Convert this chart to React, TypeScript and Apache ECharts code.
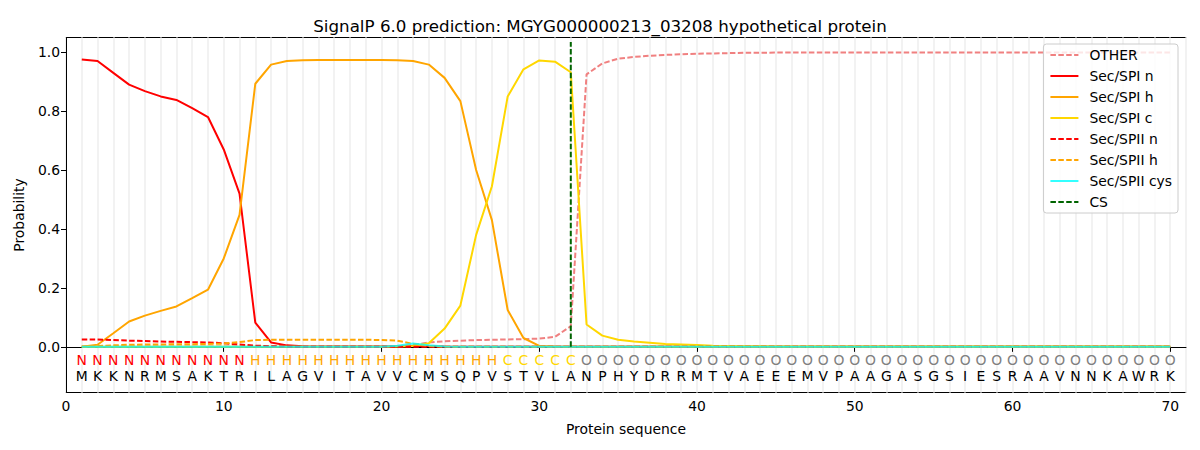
import React, { useEffect, useRef } from "react";
import * as echarts from "echarts";

const title = "SignalP 6.0 prediction: MGYG000000213_03208 hypothetical protein";
const sequence = "MKKNRMSAKTRILAGVITAVVCMSQPVSTVLANPHYDRRMTVAEEEMVPAAGASGSIESRAAVNNKAWRK".split("");
const regions = ("NNNNNNNNNNN" + "HHHHHHHHHHHHHHHH" + "CCCCC" + "O".repeat(38)).split("");
const positions = sequence.map((_, i) => i + 1);

const other = [
  0.001, 0.001, 0.001, 0.001, 0.001, 0.001, 0.001, 0.001, 0.001, 0.001,
  0.001, 0.001, 0.001, 0.001, 0.001, 0.001, 0.001, 0.001, 0.001, 0.001,
  0.002, 0.006, 0.015, 0.019, 0.021, 0.023, 0.024, 0.025, 0.026, 0.028,
  0.034, 0.07, 0.925, 0.962, 0.978, 0.984, 0.988, 0.991, 0.993, 0.995,
  0.996, 0.997, 0.998, 0.998, 0.999, 0.999, 0.999, 0.999, 0.999, 0.999,
  0.999, 0.999, 0.999, 0.999, 0.999, 0.999, 0.999, 0.999, 0.999, 0.999,
  0.999, 0.999, 0.999, 0.999, 0.999, 0.999, 0.999, 0.999, 0.999, 0.999,
];
const spiN = [
  0.975, 0.97, 0.93, 0.89, 0.868, 0.85, 0.838, 0.81, 0.78, 0.67,
  0.52, 0.082, 0.015, 0.005, 0.002, 0.001, 0.001, 0.001, 0.001, 0.001,
  0.002, 0.003, 0.003, 0.001, 0, 0, 0, 0, 0, 0,
  0, 0, 0, 0, 0, 0, 0, 0, 0, 0,
  0, 0, 0, 0, 0, 0, 0, 0, 0, 0,
  0, 0, 0, 0, 0, 0, 0, 0, 0, 0,
  0, 0, 0, 0, 0, 0, 0, 0, 0, 0,
];
const spiH = [
  0.0, 0.007, 0.046, 0.086, 0.106, 0.122, 0.137, 0.165, 0.194, 0.3,
  0.448, 0.893, 0.958, 0.97, 0.973, 0.974, 0.974, 0.974, 0.974, 0.974,
  0.973, 0.97, 0.958, 0.913, 0.834, 0.6, 0.43, 0.125, 0.03, 0.003,
  0.001, 0, 0, 0, 0, 0, 0, 0, 0, 0,
  0, 0, 0, 0, 0, 0, 0, 0, 0, 0,
  0, 0, 0, 0, 0, 0, 0, 0, 0, 0,
  0, 0, 0, 0, 0, 0, 0, 0, 0, 0,
];
const spiC = [
  0, 0, 0, 0, 0, 0, 0, 0, 0, 0,
  0, 0, 0, 0, 0, 0, 0, 0, 0, 0,
  0.001, 0.003, 0.012, 0.062, 0.14, 0.38, 0.545, 0.85, 0.942, 0.972,
  0.968, 0.932, 0.076, 0.038, 0.024, 0.018, 0.014, 0.01, 0.008, 0.006,
  0.004, 0.003, 0.002, 0.002, 0.001, 0.001, 0.001, 0.001, 0.001, 0.001,
  0.001, 0.001, 0.001, 0.001, 0.001, 0.001, 0.001, 0.001, 0.001, 0.001,
  0.001, 0.001, 0.001, 0.001, 0.001, 0.001, 0.001, 0.001, 0.001, 0.001,
];
const spiiN = [
  0.025, 0.025, 0.023, 0.021, 0.02, 0.018, 0.017, 0.016, 0.015, 0.012,
  0.008, 0.004, 0.002, 0.001, 0, 0, 0, 0, 0, 0,
  0, 0, 0, 0, 0, 0, 0, 0, 0, 0,
  0, 0, 0, 0, 0, 0, 0, 0, 0, 0,
  0, 0, 0, 0, 0, 0, 0, 0, 0, 0,
  0, 0, 0, 0, 0, 0, 0, 0, 0, 0,
  0, 0, 0, 0, 0, 0, 0, 0, 0, 0,
];
const spiiH = [
  0.0, 0.003, 0.005, 0.007, 0.008, 0.008, 0.009, 0.009, 0.01, 0.011,
  0.016, 0.023, 0.024, 0.024, 0.024, 0.024, 0.024, 0.024, 0.024, 0.023,
  0.021, 0.01, 0.003, 0.001, 0, 0, 0, 0, 0, 0,
  0, 0, 0, 0, 0, 0, 0, 0, 0, 0,
  0, 0, 0, 0, 0, 0, 0, 0, 0, 0,
  0, 0, 0, 0, 0, 0, 0, 0, 0, 0,
  0, 0, 0, 0, 0, 0, 0, 0, 0, 0,
];
const spiiCys = [
  0, 0, 0, 0, 0, 0, 0, 0, 0, 0,
  0, 0, 0, 0, 0, 0, 0, 0, 0, 0,
  0.004, 0.011, 0.005, 0.001, 0, 0, 0, 0, 0, 0,
  0, 0, 0, 0, 0, 0, 0, 0, 0, 0,
  0, 0, 0, 0, 0, 0, 0, 0, 0, 0,
  0, 0, 0, 0, 0, 0, 0, 0, 0, 0,
  0, 0, 0, 0, 0, 0, 0, 0, 0, 0,
];
const csPosition = 32;
const csTop = 1.035;
const xTicks = [0, 10, 20, 30, 40, 50, 60, 70];
const yTicks = [0, 0.2, 0.4, 0.6, 0.8, 1.0];
const regionColors: Record<string, string> = { N: "#ff0000", H: "#ffa500", C: "#ffd700", O: "#808080" };

const FONT = "DejaVu Sans";
const DASH = [5.5, 2.4];

function lineSeries(name: string, values: number[], color: string, dashed: boolean, opacity = 1) {
  return {
    name,
    type: "line",
    data: values.map((v, i) => [positions[i], v]),
    symbol: "none",
    showSymbol: false,
    itemStyle: { color },
    lineStyle: { color, width: 2, type: dashed ? DASH : "solid", opacity },
    z: 3,
    silent: true,
  };
}

function letterSeries(name: string, letters: string[], y: number, colorOf: (s: string) => string) {
  return {
    name,
    type: "scatter",
    symbolSize: 0.1,
    silent: true,
    itemStyle: { color: "rgba(0,0,0,0)", opacity: 1 },
    data: letters.map((s, i) => ({
      value: [positions[i], y],
      label: {
        show: true,
        position: "inside",
        formatter: s,
        color: colorOf(s),
        opacity: 1,
        fontFamily: FONT,
        fontSize: 13.9,
      },
    })),
    z: 5,
  };
}

export default function App() {
  const ref = useRef<HTMLDivElement>(null);
  useEffect(() => {
    document.body.style.margin = "0";
    const chart = echarts.init(ref.current!, null, { renderer: "svg" });
    const yMin = -0.155;
    const yMax = 1.05;
    const option: any = {
      animation: false,
      backgroundColor: "#ffffff",
      textStyle: { fontFamily: FONT },
      title: {
        text: title,
        left: "center",
        top: 12,
        textStyle: { fontFamily: FONT, fontSize: 16.7, fontWeight: "normal", color: "#000" },
      },
      grid: {
        left: 66,
        right: 14,
        top: 37.5,
        bottom: 57.5,
        show: true,
        borderColor: "#000",
        borderWidth: 1,
        backgroundColor: "transparent",
      },
      legend: {
        orient: "vertical",
        right: 22,
        top: 44,
        itemWidth: 28,
        itemHeight: 14,
        itemGap: 7,
        padding: [4, 6, 4, 6],
        backgroundColor: "rgba(255,255,255,0.8)",
        borderColor: "#cccccc",
        borderWidth: 1,
        borderRadius: 3,
        itemStyle: { opacity: 0 },
        textStyle: { fontFamily: FONT, fontSize: 13.9, color: "#000", padding: [0, 0, 0, 6] },
        data: ["OTHER", "Sec/SPI n", "Sec/SPI h", "Sec/SPI c", "Sec/SPII n", "Sec/SPII h", "Sec/SPII cys", "CS"],
      },
      xAxis: [
        {
          type: "value",
          min: 0,
          max: 71,
          name: "Protein sequence",
          nameLocation: "middle",
          nameGap: 29,
          nameTextStyle: { fontFamily: FONT, fontSize: 13.9, color: "#000" },
          axisLine: { show: true, lineStyle: { color: "#000", width: 1 } },
          axisTick: { show: true, length: 5, inside: false, lineStyle: { color: "#000" }, customValues: xTicks },
          axisLabel: {
            show: true,
            margin: 6,
            fontFamily: FONT,
            fontSize: 13.9,
            color: "#000",
            customValues: xTicks,
            formatter: (v: number) => String(v),
          },
          splitLine: { show: false },
          z: 2,
        },
        {
          type: "value",
          min: 0,
          max: 71,
          interval: 1,
          position: "bottom",
          axisLine: { show: false },
          axisTick: { show: false },
          axisLabel: { show: false },
          splitLine: { show: true, lineStyle: { color: "#f2f2f2", width: 2 } },
          z: 0,
        },
      ],
      yAxis: {
        type: "value",
        min: yMin,
        max: yMax,
        name: "Probability",
        nameLocation: "middle",
        nameGap: 40,
        nameRotate: 90,
        nameTextStyle: { fontFamily: FONT, fontSize: 13.9, color: "#000" },
        axisLine: { show: true, lineStyle: { color: "#000", width: 1 } },
        axisTick: { show: true, length: 5, inside: false, lineStyle: { color: "#000" }, customValues: yTicks },
        axisLabel: {
          show: true,
          margin: 6,
          fontFamily: FONT,
          fontSize: 13.9,
          color: "#000",
          customValues: yTicks,
          formatter: (v: number) => v.toFixed(1),
        },
        splitLine: { show: false },
      },
      series: [
        lineSeries("OTHER", other, "#f08080", true),
        lineSeries("Sec/SPI n", spiN, "#ff0000", false),
        lineSeries("Sec/SPI h", spiH, "#ffa500", false),
        lineSeries("Sec/SPI c", spiC, "#ffd700", false),
        lineSeries("Sec/SPII n", spiiN, "#ff0000", true),
        lineSeries("Sec/SPII h", spiiH, "#ffa500", true),
        lineSeries("Sec/SPII cys", spiiCys, "#00ffff", false, 0.8),
        {
          name: "CS",
          type: "line",
          data: [[csPosition, 0], [csPosition, csTop]],
          symbol: "none",
          showSymbol: false,
          itemStyle: { color: "#006400" },
          lineStyle: { color: "#006400", width: 2, type: DASH },
          z: 4,
          silent: true,
        },
        letterSeries("regions", regions, -0.046, (r) => regionColors[r]),
        letterSeries("sequence", sequence, -0.1, () => "#000"),
      ],
    };
    chart.setOption(option);
    return () => chart.dispose();
  }, []);
  return <div ref={ref} style={{ width: 1200, height: 450 }} />;
}
